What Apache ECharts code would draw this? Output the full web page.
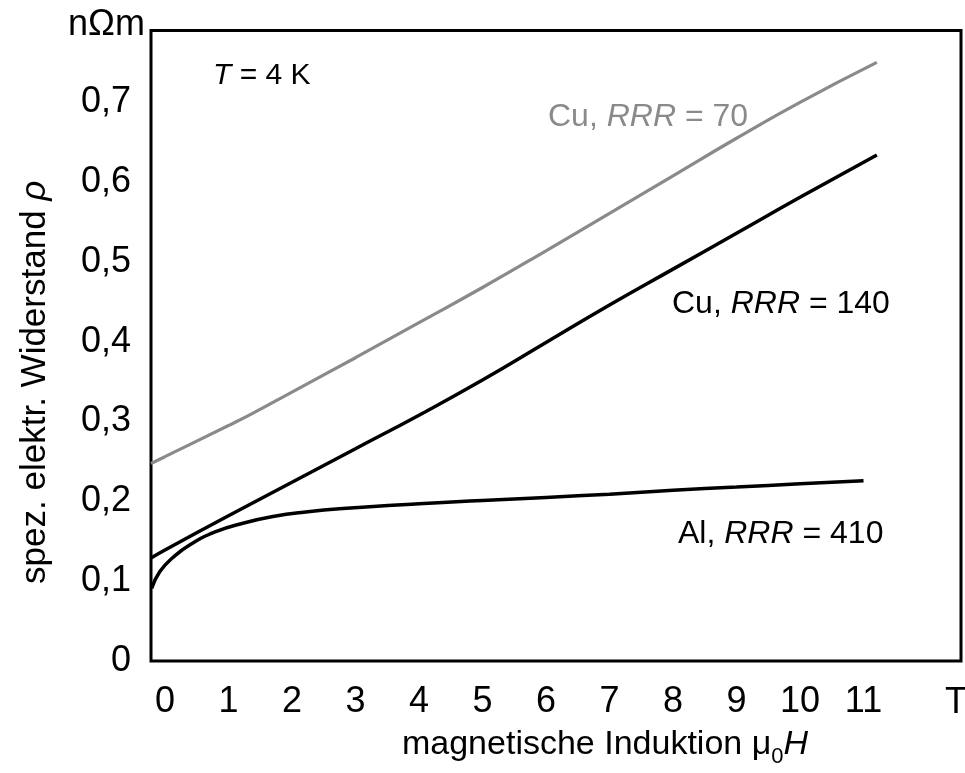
<!DOCTYPE html>
<html>
<head>
<meta charset="utf-8">
<script src="https://cdn.jsdelivr.net/npm/echarts@6/dist/echarts.min.js"></script>
<style>html,body{margin:0;padding:0;background:#fff}#c{width:965px;height:773px}</style>
</head>
<body>
<div id="c"></div>
<script>
// ---- data ----
const xTicks = [0, 1, 2, 3, 4, 5, 6, 7, 8, 9, 10, 11];
const yTicks = [0, 0.1, 0.2, 0.3, 0.4, 0.5, 0.6, 0.7];
const xUnit = 'T';
const yUnit = 'nΩm';

const cu70X = [-0.22, 0, 1, 1.35, 2, 3, 4, 5, 6, 7, 8, 9, 10, 11.21];
const cu70Y = [0.2475, 0.256, 0.295, 0.309, 0.337, 0.380, 0.424, 0.468, 0.514, 0.561, 0.608, 0.655, 0.700, 0.750];

const cu140X = [-0.22, 0, 1, 2, 3, 4, 5, 6, 7, 8, 9, 10, 11.21];
const cu140Y = [0.129, 0.139, 0.182, 0.224, 0.266, 0.308, 0.352, 0.399, 0.446, 0.491, 0.536, 0.581, 0.634];

const alX = [-0.21, -0.08, 0.13, 0.40, 0.80, 1.20, 1.70, 2.25, 2.80, 4, 5, 6, 7, 8, 9, 10, 11.0];
const alY = [0.091, 0.112, 0.130, 0.146, 0.162, 0.172, 0.181, 0.187, 0.191, 0.197, 0.201, 0.205, 0.209, 0.214, 0.218, 0.222, 0.226];

const xMin = -0.22, xMax = 12.535;
const yMin = 0, yMax = 0.79;

// ---- chart ----
const FONT = "'Liberation Sans', Arial, sans-serif";
const pairs = (xs, ys) => xs.map((x, i) => [x, ys[i]]);
const chart = echarts.init(document.getElementById('c'), null, {renderer: 'canvas'});

const hidden = {axisLine: {show: false}, axisTick: {show: false}, splitLine: {show: false}};

const option = {
  animation: false,
  backgroundColor: '#fff',
  grid: {left: 151, top: 30.5, right: 4, bottom: 102.5, show: true, borderColor: '#000', borderWidth: 3, backgroundColor: 'transparent'},
  xAxis: [
    Object.assign({
      type: 'value', min: xMin, max: xMax, position: 'bottom',
      axisLabel: {customValues: xTicks, margin: 23, fontSize: 36, color: '#000', fontFamily: FONT}
    }, hidden),
    Object.assign({
      type: 'value', min: xMin, max: xMax, position: 'bottom',
      axisLabel: {show: false},
      name: 'magnetische Induktion μ{sub|0}{i|H}', nameLocation: 'middle', nameGap: 61, nameMoveOverlap: false,
      nameTextStyle: {fontSize: 34, color: '#000', fontFamily: FONT, padding: [0, 0, 0, 98],
        rich: {
          sub: {fontSize: 22, fontFamily: FONT, color: '#000', padding: [24, 0, 0, 0]},
          i: {fontSize: 34, fontFamily: FONT, color: '#000', fontStyle: 'italic'}
        }}
    }, hidden)
  ],
  yAxis: [
    Object.assign({
      type: 'value', min: yMin, max: yMax, position: 'left',
      axisLabel: {customValues: yTicks, margin: 20, fontSize: 36, color: '#000', fontFamily: FONT,
        formatter: v => v === 0 ? '0' : v.toFixed(1).replace('.', ',')}
    }, hidden),
    Object.assign({
      type: 'value', min: yMin, max: yMax, position: 'left',
      axisLabel: {show: false},
      name: 'spez. elektr. Widerstand {i|ρ}', nameLocation: 'middle', nameGap: 98, nameMoveOverlap: false,
      nameTextStyle: {fontSize: 35, color: '#000', fontFamily: FONT, padding: [0, 73, 0, 0],
        rich: {i: {fontSize: 35, fontFamily: FONT, color: '#000', fontStyle: 'italic'}}}
    }, hidden)
  ],
  series: [
    {name: 'Cu, RRR = 70', type: 'line', data: pairs(cu70X, cu70Y), smooth: true, showSymbol: false,
      lineStyle: {color: '#8a8a8a', width: 3.2}, itemStyle: {color: '#8a8a8a'}},
    {name: 'Cu, RRR = 140', type: 'line', data: pairs(cu140X, cu140Y), smooth: true, showSymbol: false,
      lineStyle: {color: '#000', width: 3.5}, itemStyle: {color: '#000'}},
    {name: 'Al, RRR = 410', type: 'line', data: pairs(alX, alY), smooth: true, showSymbol: false,
      lineStyle: {color: '#000', width: 3.5}, itemStyle: {color: '#000'}}
  ],
  graphic: [
    {type: 'text', x: 145, y: 25, style: {text: yUnit, fill: '#000', font: '36px ' + FONT, align: 'right', verticalAlign: 'middle'}},
    {type: 'text', x: 956, y: 685.5, style: {text: xUnit, fill: '#000', font: '36px ' + FONT, align: 'center', verticalAlign: 'top'}},
    {type: 'text', x: 213, y: 76, style: {text: '{i|T} = 4 K', fill: '#000', font: '30px ' + FONT, verticalAlign: 'middle',
      rich: {i: {fontStyle: 'italic', fontSize: 30, fontFamily: FONT, fill: '#000'}}}},
    {type: 'text', x: 548, y: 117, style: {text: 'Cu, {i|RRR} = 70', fill: '#8a8a8a', font: '32px ' + FONT, verticalAlign: 'middle',
      rich: {i: {fontStyle: 'italic', fontSize: 32, fontFamily: FONT, fill: '#8a8a8a'}}}},
    {type: 'text', x: 672, y: 304, style: {text: 'Cu, {i|RRR} = 140', fill: '#000', font: '32px ' + FONT, verticalAlign: 'middle',
      rich: {i: {fontStyle: 'italic', fontSize: 32, fontFamily: FONT, fill: '#000'}}}},
    {type: 'text', x: 678, y: 534, style: {text: 'Al, {i|RRR} = 410', fill: '#000', font: '32px ' + FONT, verticalAlign: 'middle',
      rich: {i: {fontStyle: 'italic', fontSize: 32, fontFamily: FONT, fill: '#000'}}}}
  ]
};
chart.setOption(option);
</script>
</body>
</html>
